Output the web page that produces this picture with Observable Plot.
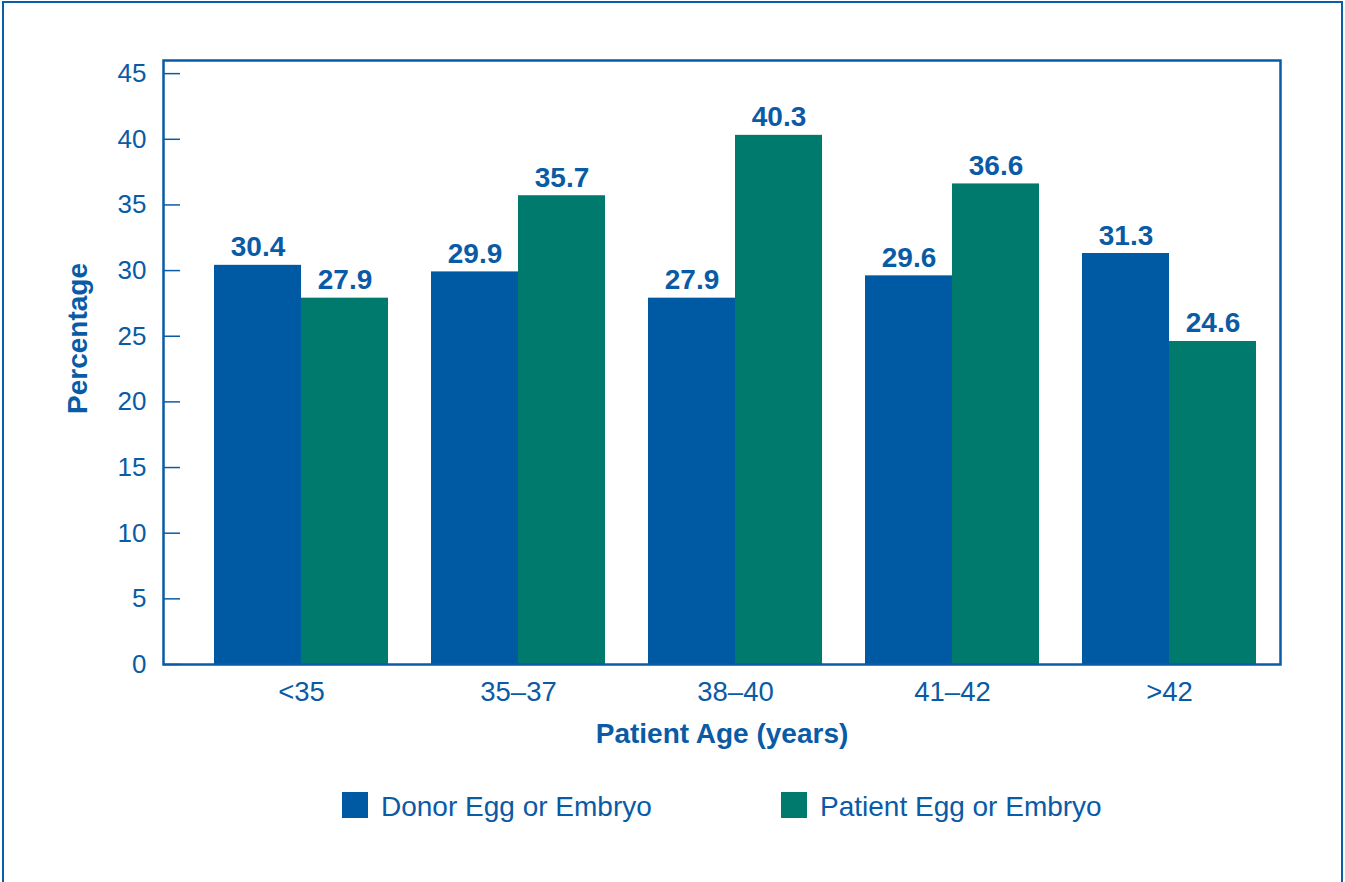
<!DOCTYPE html>
<html>
<head>
<meta charset="utf-8">
<script src="https://cdn.jsdelivr.net/npm/d3@7"></script>
<script src="https://cdn.jsdelivr.net/npm/@observablehq/plot@0.6"></script>
<style>
  html, body { margin: 0; padding: 0; background: #fff; }
  #page { position: relative; width: 1345px; height: 882px; overflow: hidden; font-family: "Liberation Sans", Arial, Helvetica, sans-serif; }
  #border { position: absolute; left: 2px; top: 1px; width: 1337px; height: 879px; border: 2px solid #0a5ea8; border-bottom: 1px solid #a9c1d9; }
  #chart { position: absolute; left: 0; top: 0; }
  .legend { position: absolute; top: 792px; display: flex; align-items: center; font-size: 28px; color: #0a5ba5; line-height: 26px; }
  .legend .sw { width: 26px; height: 26px; margin-right: 13px; }
</style>
</head>
<body>
<div id="page">
  <div id="border"></div>
  <div id="chart"></div>
  <div class="legend" style="left:342px"><span class="sw" style="background:#0059a3"></span><span style="position:relative;top:2px">Donor Egg or Embryo</span></div>
  <div class="legend" style="left:781px"><span class="sw" style="background:#007a6d"></span><span style="position:relative;top:2px">Patient Egg or Embryo</span></div>
</div>
<script>
const ages = ["<35", "35–37", "38–40", "41–42", ">42"];
const donorValues = [30.4, 29.9, 27.9, 29.6, 31.3];
const patientValues = [27.9, 35.7, 40.3, 36.6, 24.6];
const series = ["Donor Egg or Embryo", "Patient Egg or Embryo"];
const yTicks = [0, 5, 10, 15, 20, 25, 30, 35, 40, 45];

const blue = "#0059a3";
const green = "#007a6d";
const ink = "#0a5ba5";

const donor = ages.map((age, i) => ({age, value: donorValues[i], series: series[0]}));
const patient = ages.map((age, i) => ({age, value: patientValues[i], series: series[1]}));

const plot = Plot.plot({
  width: 1345,
  height: 882,
  marginLeft: 163,
  marginRight: 65,
  marginTop: 60,
  marginBottom: 218,
  style: {fontFamily: "'Liberation Sans', Arial, Helvetica, sans-serif", color: ink, background: "transparent"},
  x: {domain: ages, paddingInner: 0.2, paddingOuter: 0.1, insetLeft: 28, insetRight: 1, label: null},
  y: {domain: [0, 46], label: null},
  marks: [
    Plot.barY(donor, {x: "age", y: "value", fill: blue, insetRight: 87}),
    Plot.barY(patient, {x: "age", y: "value", fill: green, insetLeft: 87}),
    Plot.text(donor, {x: "age", y: "value", text: d => d.value.toFixed(1), dx: -43.5, dy: -9, lineAnchor: "bottom", fill: ink, fontWeight: "bold", fontSize: 28}),
    Plot.text(patient, {x: "age", y: "value", text: d => d.value.toFixed(1), dx: 43.5, dy: -9, lineAnchor: "bottom", fill: ink, fontWeight: "bold", fontSize: 28}),
    Plot.axisY({ticks: yTicks, tickSize: 0, tickPadding: 17, fontSize: 26, fill: ink, label: null}),
    Plot.ruleY(yTicks, {y: d => d, stroke: ink, strokeWidth: 1.5, insetRight: 1100}),
    Plot.axisX({tickSize: 0, tickPadding: 17, fontSize: 27.5, fill: ink, label: null}),
    Plot.frame({stroke: ink, strokeWidth: 2.5}),
    Plot.text(["Patient Age (years)"], {frameAnchor: "bottom", dy: 70, lineAnchor: "middle", textAnchor: "middle", fill: ink, fontWeight: "bold", fontSize: 28}),
    Plot.text(["Percentage"], {frameAnchor: "left", rotate: -90, dx: -85, dy: -24, lineAnchor: "middle", textAnchor: "middle", fill: ink, fontWeight: "bold", fontSize: 28})
  ]
});
document.getElementById("chart").appendChild(plot);
</script>
</body>
</html>
